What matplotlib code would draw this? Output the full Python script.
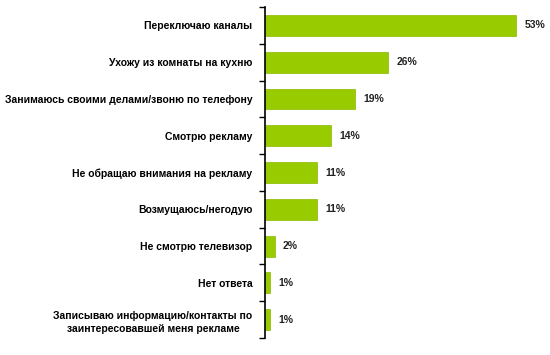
import matplotlib.pyplot as plt
import numpy as np

categories = [
    'Переключаю каналы',
    'Ухожу из комнаты на кухню',
    'Занимаюсь своими делами/звоню по телефону',
    'Смотрю рекламу',
    'Не обращаю внимания на рекламу',
    'Возмущаюсь/негодую',
    'Не смотрю телевизор',
    'Нет ответа',
    'Записываю информацию/контакты по\nзаинтересовавшей меня рекламе',
]
values = [53, 26, 19, 14, 11, 11, 2, 1, 1]
value_labels = ['53%', '26%', '19%', '14%', '11%', '11%', '2%', '1%', '1%']

plt.rcParams['font.family'] = ['Liberation Sans', 'DejaVu Sans']

fig = plt.figure(figsize=(5.5, 3.55), dpi=100)
ax = fig.add_axes([0.482, 0.048, 0.508, 0.932])

y = np.arange(len(categories))
bars = ax.barh(y, values, height=0.57, color='#99cc00', edgecolor='#8ab800', linewidth=0.5)
ax.set_ylim(len(categories) - 0.5, -0.5)
ax.set_xlim(0, 59)

for b, lab in zip(bars, value_labels):
    ax.annotate(lab, (b.get_width(), b.get_y() + b.get_height() / 2),
                xytext=(6, 0), textcoords='offset points', va='center', ha='left',
                fontsize=7.5, fontweight='bold', color='#222222')

ax.set_yticks(y)
ax.set_yticklabels(categories, fontsize=7.5, fontweight='bold', linespacing=1.4)
ax.tick_params(axis='y', which='major', length=0, pad=9)
ax.set_yticks(np.arange(-0.5, len(categories), 1), minor=True)
ax.tick_params(axis='y', which='minor', length=4, width=1, color='black', direction='out')
for lbl in ax.get_yticklabels():
    lbl.set_horizontalalignment('right')
    lbl.set_multialignment('center')

ax.set_xticks([])
for s in ['top', 'right', 'bottom']:
    ax.spines[s].set_visible(False)
ax.spines['left'].set_linewidth(1.2)

fig.savefig('out.png', dpi=100)
